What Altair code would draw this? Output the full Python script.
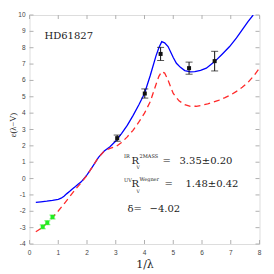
import altair as alt
import pandas as pd

# ---- data ----
blue_x = [0.22, 0.4, 0.6, 0.8, 1.0, 1.1, 1.2, 1.3, 1.4, 1.5, 1.6, 1.7, 1.8, 2.0, 2.2, 2.4, 2.6, 2.8, 3.0, 3.2, 3.4, 3.6, 3.8, 4.0, 4.2, 4.4, 4.5, 4.6, 4.7, 4.82, 5.0, 5.11, 5.25, 5.4, 5.6, 5.75, 5.95, 6.15, 6.44, 6.7, 6.96, 7.2, 7.44, 7.6, 7.78]
blue_y = [-1.45, -1.42, -1.38, -1.33, -1.27, -1.2, -1.08, -0.92, -0.78, -0.62, -0.48, -0.33, -0.2, 0.22, 0.75, 1.3, 1.68, 1.95, 2.3, 2.75, 3.25, 3.85, 4.5, 5.2, 6.3, 7.5, 8.0, 8.37, 8.3, 8.07, 7.4, 7.05, 6.8, 6.6, 6.52, 6.54, 6.62, 6.75, 7.15, 7.6, 8.07, 8.6, 9.2, 9.6, 10.0]

red_x = [0.22, 0.4, 0.6, 0.8, 1.0, 1.2, 1.4, 1.6, 1.8, 2.0, 2.2, 2.4, 2.6, 2.8, 3.0, 3.2, 3.4, 3.6, 3.8, 4.0, 4.2, 4.4, 4.5, 4.6, 4.7, 4.8, 5.0, 5.2, 5.4, 5.6, 5.8, 6.0, 6.2, 6.4, 6.6, 6.8, 7.0, 7.2, 7.4, 7.6, 7.8, 8.0]
red_y = [-3.25, -3.05, -2.74, -2.38, -1.98, -1.55, -1.1, -0.65, -0.25, 0.2, 0.75, 1.3, 1.68, 1.85, 1.95, 2.2, 2.55, 2.95, 3.45, 4.0, 4.7, 5.75, 6.25, 6.54, 6.45, 6.1, 5.2, 4.75, 4.52, 4.42, 4.42, 4.48, 4.57, 4.68, 4.8, 4.95, 5.12, 5.33, 5.58, 5.88, 6.28, 6.75]

uv_x = [3.05, 4.01, 4.56, 5.55, 6.44]
uv_y = [2.47, 5.2, 7.62, 6.75, 7.18]
uv_err = [0.19, 0.28, 0.4, 0.37, 0.6]

ir_x = [0.46, 0.62, 0.80]
ir_y = [-2.95, -2.70, -2.35]
ir_err = [0.12, 0.12, 0.12]

x_ticks = [0, 1, 2, 3, 4, 5, 6, 7, 8]
y_ticks = [-4, -3, -2, -1, 0, 1, 2, 3, 4, 5, 6, 7, 8, 9, 10]

W, H = 230, 229
SERIF = "DejaVu Serif"
FRAME = "#b0b0b0"
LABEL_FONT = "Liberation Sans"

xs = alt.Scale(domain=[0, 8], nice=False)
ys = alt.Scale(domain=[-4, 10], nice=False)


def X(f, **kw):
    return alt.X(f, scale=xs, axis=None, **kw)


def Y(f, **kw):
    return alt.Y(f, scale=ys, axis=None, **kw)


blue = pd.DataFrame({"x": blue_x, "y": blue_y})
red = pd.DataFrame({"x": red_x, "y": red_y})
uv = pd.DataFrame({"x": uv_x, "y": uv_y, "e": uv_err})
ir = pd.DataFrame({"x": ir_x, "y": ir_y, "e": ir_err})

blue_line = alt.Chart(blue).mark_line(color="#0000ff", strokeWidth=1.3, clip=True).encode(
    x=X("x:Q"), y=Y("y:Q"), order="x:Q")
red_line = alt.Chart(red).mark_line(color="#ff2a2a", strokeWidth=1.3, strokeDash=[6, 4], clip=True).encode(
    x=X("x:Q"), y=Y("y:Q"), order="x:Q")


def errbars(df, color, cap, size):
    b = alt.Chart(df).transform_calculate(lo="datum.y - datum.e", hi="datum.y + datum.e")
    rule = b.mark_rule(color=color, strokeWidth=1).encode(x=X("x:Q"), y=Y("lo:Q"), y2="hi:Q")
    lo = b.mark_tick(color=color, orient="horizontal", size=cap, thickness=1).encode(x=X("x:Q"), y=Y("lo:Q"))
    hi = b.mark_tick(color=color, orient="horizontal", size=cap, thickness=1).encode(x=X("x:Q"), y=Y("hi:Q"))
    pts = b.mark_square(color=color, size=size, opacity=1).encode(x=X("x:Q"), y=Y("y:Q"))
    return [rule, lo, hi, pts]


uv_layers = errbars(uv, "#111111", 7, 16)
ir_layers = errbars(ir, "#22ee22", 6, 16)

# inward ticks + tick labels
xt = alt.Chart(pd.DataFrame({"t": x_ticks})).transform_calculate(s="toString(datum.t)")
yt = alt.Chart(pd.DataFrame({"t": y_ticks})).transform_calculate(s="toString(datum.t)")
tick_style = dict(color=FRAME, strokeWidth=1)
bt = xt.mark_rule(**tick_style).encode(x=X("t:Q"), y=alt.value(H), y2=alt.value(H - 4))
tt = xt.mark_rule(**tick_style).encode(x=X("t:Q"), y=alt.value(0), y2=alt.value(4))
lt = yt.mark_rule(**tick_style).encode(y=Y("t:Q"), x=alt.value(0), x2=alt.value(4))
rt = yt.mark_rule(**tick_style).encode(y=Y("t:Q"), x=alt.value(W), x2=alt.value(W - 4))
xl = xt.mark_text(font=LABEL_FONT, fontSize=6.5, color="#444", baseline="middle", align="center").encode(
    x=X("t:Q"), y=alt.value(H + 9), text="s:N")
yl = yt.mark_text(font=LABEL_FONT, fontSize=6.5, color="#444", baseline="middle", align="right").encode(
    y=Y("t:Q"), x=alt.value(-4), text="s:N")

# annotations
ann = pd.DataFrame({"a": [0]})


def txt(s, x, y, size, font=SERIF, angle=0, align="left"):
    return alt.Chart(ann).mark_text(text=s, align=align, baseline="middle", font=font, angle=angle,
                                    fontSize=size, color="#222").encode(x=alt.value(x), y=alt.value(y))


texts = [
    txt("1/λ", 115.5, 249.5, 11, align="center"),
    txt("ε(λ−V)", -16.5, 110, 8.5, font="Liberation Serif", angle=270, align="center"),
    txt("HD61827", 15, 21, 10),
    txt("IR", 94.5, 141, 5), txt("R", 102, 145.5, 10), txt("V", 107, 153, 4.5), txt("2MASS", 110, 140.5, 5),
    txt("=", 133, 145.5, 10), txt("3.35±0.20", 150, 145.5, 10),
    txt("UV", 94.5, 164.5, 5), txt("R", 102, 169, 10), txt("V", 107, 176.5, 4.5), txt("Wegner", 110, 164, 5),
    txt("=", 135, 169, 10), txt("1.48±0.42", 156, 169, 10),
    txt("δ=", 98, 194, 10), txt("−4.02", 120, 194, 10),
]

chart = alt.layer(blue_line, red_line, *uv_layers, *ir_layers, bt, tt, lt, rt, xl, yl, *texts).properties(
    width=W, height=H,
    autosize=alt.AutoSizeParams(type="none"),
    padding={"left": 21.5, "top": 7, "right": 6, "bottom": 27},
).configure_view(stroke=FRAME, strokeWidth=1.5).configure(background="white")

chart.save("out.html", embed_options={"renderer": "svg", "actions": False})
